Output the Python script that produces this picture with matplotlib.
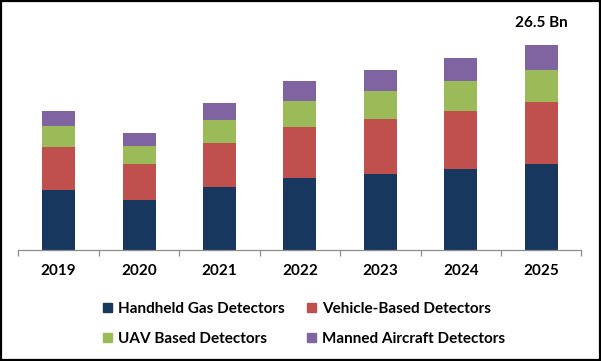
import matplotlib
matplotlib.use('Agg')
import numpy as np
from matplotlib import pyplot
from matplotlib.patches import Rectangle

# 値は画像から読み取った推定値 (Bn)
YEARS = ['2019', '2020', '2021', '2022', '2023', '2024', '2025']
HANDHELD = [7.75, 6.41, 8.10, 9.27, 9.78, 10.43, 11.08]
VEHICLE = [5.53, 4.67, 5.70, 6.61, 7.17, 7.56, 8.07]
UAV = [2.76, 2.37, 2.98, 3.37, 3.63, 3.85, 4.11]
MANNED = [1.90, 1.65, 2.20, 2.59, 2.68, 2.98, 3.24]
SERIES_NAMES = ['Handheld Gas Detectors', 'Vehicle-Based Detectors',
                'UAV Based Detectors', 'Manned Aircraft Detectors']
LAST_LABEL = '26.5 Bn'

COLORS = ['#17375E', '#C0504D', '#9BBB59', '#8064A2']
FONT_NAME = 'Lato'

pyplot.rcParams['font.family'] = [FONT_NAME, 'DejaVu Sans']

figure = pyplot.figure(figsize=(6.01, 3.61), dpi=100)
axes = figure.add_axes([18.4 / 601, 111 / 361, 563 / 601, 205 / 361])

x = np.arange(len(YEARS))
bottom = np.zeros(len(YEARS))
for values, color in zip([HANDHELD, VEHICLE, UAV, MANNED], COLORS):
    axes.bar(x, values, width=0.41, bottom=bottom, color=color, linewidth=0)
    bottom = bottom + np.array(values)

axes.set_xlim(-0.5, len(YEARS) - 0.5)
axes.set_ylim(0, bottom[-1])
axes.set_yticks([])
for side in ['top', 'right', 'left']:
    axes.spines[side].set_visible(False)
axes.spines['bottom'].set_color('#8C8C8C')
axes.spines['bottom'].set_linewidth(0.9)

axes.set_xticks(x)
axes.set_xticklabels(YEARS, fontsize=11, fontweight='bold')
axes.tick_params(axis='x', which='major', length=0, pad=10)
axes.set_xticks(np.arange(-0.5, len(YEARS)), minor=True)
axes.tick_params(axis='x', which='minor', length=4.5, color='#8C8C8C', width=0.9)

axes.annotate(LAST_LABEL, (x[-1], bottom[-1]), xytext=(0, 11), textcoords='offset points',
              ha='center', va='bottom', fontsize=11, fontweight='bold', annotation_clip=False)

# 行ごとに並ぶよう順番を入れ替える
order = [0, 2, 1, 3]
handles = [Rectangle((0, 0), 1, 1, color=COLORS[i]) for i in order]
labels = [SERIES_NAMES[i] for i in order]
figure.legend(handles, labels, ncol=2, loc='center', bbox_to_anchor=(304 / 601, 1 - 324 / 361),
              frameon=False, prop={'size': 11, 'weight': 'bold'},
              handlelength=0.6, handleheight=0.6, handletextpad=0.35,
              columnspacing=1.5, labelspacing=1.05)

# 外枠
figure.patches.append(Rectangle((0.001, 0.002), 0.997, 0.995, transform=figure.transFigure,
                                fill=False, edgecolor='black', linewidth=1.6))

pyplot.savefig('out.png', dpi=100)
